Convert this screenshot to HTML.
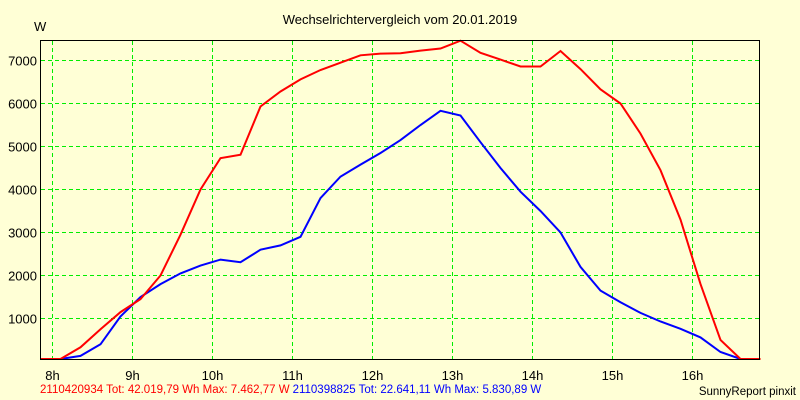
<!DOCTYPE html>
<html><head><meta charset="utf-8"><style>
html,body{margin:0;padding:0;background:#ffffd6;}
svg{display:block;font-family:"Liberation Sans",sans-serif;}
</style></head><body>
<svg id="chart" width="800" height="400" viewBox="0 0 800 400">
<rect x="0" y="0" width="800" height="400" fill="#ffffd6"/>
<text x="400" y="24" font-size="13" text-anchor="middle" fill="#000">Wechselrichtervergleich vom 20.01.2019</text>
<text x="34" y="31" font-size="13" fill="#000">W</text>
<g id="grid"></g>
<g id="series"></g>
<rect x="40.5" y="40.5" width="719" height="319" fill="none" stroke="#000" stroke-width="1"/>
<g id="labels"></g>
<text x="40" y="393" font-size="11.5"><tspan fill="#ff0000">2110420934 Tot: 42.019,79 Wh Max: 7.462,77 W</tspan><tspan fill="#0000ff" dx="3">2110398825 Tot: 22.641,11 Wh Max: 5.830,89 W</tspan></text>
<text x="796" y="395" font-size="11.5" text-anchor="end" fill="#000">SunnyReport pinxit</text>
</svg>
<script>
const hourTicks=[8,9,10,11,12,13,14,15,16];
const yTicks=[1000,2000,3000,4000,5000,6000,7000];
const startHour=7.85, stepHour=0.25;
const redValues=[0,50,330,750,1150,1450,2000,2950,4000,4730,4810,5930,6280,6560,6780,6950,7120,7160,7170,7230,7280,7460,7180,7020,6860,6860,7220,6800,6330,6000,5300,4450,3300,1800,500,50,0];
const blueValues=[0,0,130,400,1050,1500,1800,2050,2230,2370,2310,2600,2700,2900,3800,4300,4580,4850,5150,5500,5830,5720,5100,4500,3950,3500,3000,2200,1650,1380,1130,930,760,560,220,30,0];
const NS="http://www.w3.org/2000/svg";
function xs(h){return 52.5+(h-8)*80;}
function ys(v){return 361.5-v*0.043;}
const grid=document.getElementById('grid'),labels=document.getElementById('labels'),series=document.getElementById('series');
hourTicks.forEach(h=>{
 const l=document.createElementNS(NS,'line');
 
 
 l.setAttribute('x1',xs(h));l.setAttribute('x2',xs(h));l.setAttribute('y1',41);l.setAttribute('y2',359);
 l.setAttribute('stroke','#00ee00');l.setAttribute('stroke-dasharray','4,3');
 grid.appendChild(l);
 const t=document.createElementNS(NS,'text');
 
 
 t.setAttribute('x',xs(h));t.setAttribute('y',380);t.setAttribute('font-size','13');t.setAttribute('text-anchor','middle');
 t.textContent=h+'h';labels.appendChild(t);
});
yTicks.forEach(v=>{
 const l=document.createElementNS(NS,'line');
 
 
 const y=Math.round(ys(v))-0.5;
 l.setAttribute('x1',41);l.setAttribute('x2',759);l.setAttribute('y1',y);l.setAttribute('y2',y);
 l.setAttribute('stroke','#00ee00');l.setAttribute('stroke-dasharray','4,3');
 grid.appendChild(l);
 const t=document.createElementNS(NS,'text');
 
 
 t.setAttribute('x',37);t.setAttribute('y',y+5);t.setAttribute('font-size','13');t.setAttribute('text-anchor','end');
 t.textContent=v;labels.appendChild(t);
});
function line(vals,color,name){
 const p=document.createElementNS(NS,'polyline');
 
 
 p.setAttribute('points',vals.map((v,i)=>xs(startHour+i*stepHour).toFixed(1)+','+Math.min(359,ys(v)).toFixed(1)).join(' '));
 p.setAttribute('fill','none');p.setAttribute('stroke',color);p.setAttribute('stroke-width','2');
 series.appendChild(p);
}
line(blueValues,'#0000ff','blue-series-line');
line(redValues,'#ff0000','red-series-line');
</script>
</body></html>
